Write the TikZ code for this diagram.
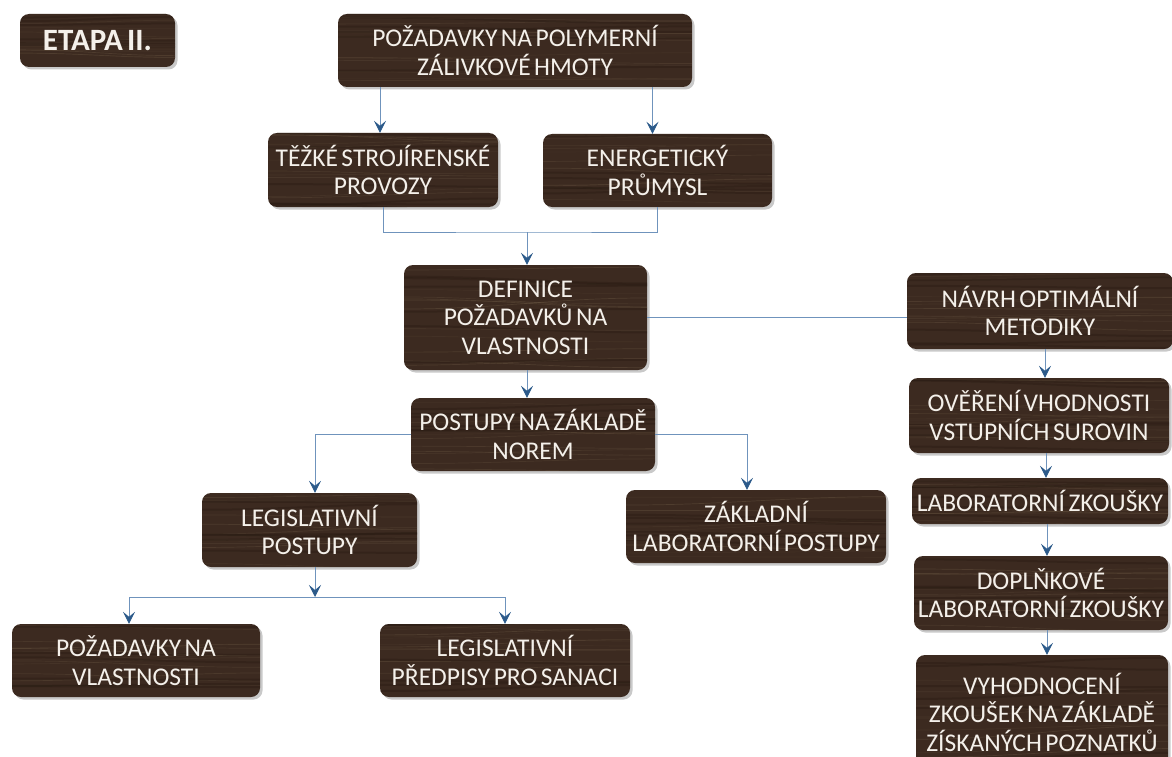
\documentclass[tikz,border=0pt]{standalone}
\usepackage{fontspec}
\setmainfont{Carlito}[WordSpace=0.6]
\usetikzlibrary{arrows.meta,shadows,calc}

\definecolor{woodbase}{HTML}{3C2A20}
\definecolor{woodgrain}{HTML}{7D6A52}
\definecolor{wooddark}{HTML}{22160E}
\definecolor{woodtext}{HTML}{F4F0EA}
\definecolor{linkblue}{HTML}{6F93BC}
\definecolor{tipblue}{HTML}{2C5A8A}

\newcommand\boxfont{\fontsize{25.5}{28.5}\selectfont}
\newcommand\titlefont{\fontsize{31}{34}\selectfont\bfseries}

\tikzset{
  woodbox/.style={
    rounded corners=9pt, fill=woodbase, text=woodtext, align=center,
    font=\boxfont, inner sep=0pt,
    drop shadow={shadow xshift=2.5pt, shadow yshift=-2.5pt, opacity=0.3, fill=black!70},
    path picture={
      \foreach \k in {1,...,11}{
        \pgfmathsetmacro\ya{rnd}
        \pgfmathsetmacro\yb{\ya+0.12*rand}
        \pgfmathsetmacro\op{0.08+0.22*rnd}
        \draw[woodgrain, line width=0.7pt, opacity=\op]
          ($(path picture bounding box.north west)!\ya!(path picture bounding box.south west)$)
          to[out=0,in=180]
          ($(path picture bounding box.north east)!\yb!(path picture bounding box.south east)$);
      }
      \foreach \k in {1,...,6}{
        \pgfmathsetmacro\ya{rnd}
        \pgfmathsetmacro\yb{\ya+0.1*rand}
        \draw[wooddark, line width=2pt, opacity=0.3]
          ($(path picture bounding box.north west)!\ya!(path picture bounding box.south west)$)
          to[out=0,in=180]
          ($(path picture bounding box.north east)!\yb!(path picture bounding box.south east)$);
      }
    }},
  link/.style={draw=linkblue, line width=0.9pt},
  linkarrow/.style={link, -{Stealth[length=12pt,width=12pt,inset=5pt,color=tipblue]}}
}

\begin{document}
\begin{tikzpicture}[x=1pt,y=-1pt]
\pgfmathsetseed{11}
\useasboundingbox (0,0) rectangle (1172,757);
\begin{scope}
\clip (0,0) rectangle (1172,757);

% boxes
\node[woodbox, font=\titlefont, minimum width=155pt, minimum height=53pt] (etapa) at (97.5,40.5) {ETAPA II.};
\node[woodbox, minimum width=354pt, minimum height=73pt] (top) at (515,50.5) {POŽADAVKY NA POLYMERNÍ\\ZÁLIVKOVÉ HMOTY};
\node[woodbox, minimum width=230pt, minimum height=74pt] (tezke) at (383,170) {TĚŽKÉ STROJÍRENSKÉ\\PROVOZY};
\node[woodbox, minimum width=229pt, minimum height=73pt] (energ) at (657.5,170.5) {ENERGETICKÝ\\PRŮMYSL};
\node[woodbox, minimum width=243pt, minimum height=105pt] (defin) at (525.5,317.5) {DEFINICE\\POŽADAVKŮ NA\\VLASTNOSTI};
\node[woodbox, minimum width=266pt, minimum height=76pt] (navrh) at (1040,311) {NÁVRH OPTIMÁLNÍ\\METODIKY};
\node[woodbox, minimum width=244pt, minimum height=73pt] (postupy) at (533,434.5) {POSTUPY NA ZÁKLADĚ\\NOREM};
\node[woodbox, minimum width=215pt, minimum height=74pt] (legis) at (309.5,530) {LEGISLATIVNÍ\\POSTUPY};
\node[woodbox, minimum width=260pt, minimum height=73pt] (zaklad) at (756,526.5) {ZÁKLADNÍ\\LABORATORNÍ POSTUPY};
\node[woodbox, minimum width=248pt, minimum height=73pt] (pozad) at (136,660.5) {POŽADAVKY NA\\VLASTNOSTI};
\node[woodbox, minimum width=250pt, minimum height=73pt] (predp) at (505,660.5) {LEGISLATIVNÍ\\PŘEDPISY PRO SANACI};
\node[woodbox, minimum width=260pt, minimum height=75pt] (over) at (1039,415.5) {OVĚŘENÍ VHODNOSTI\\VSTUPNÍCH SUROVIN};
\node[woodbox, minimum width=256pt, minimum height=46pt] (lab) at (1040,501) {LABORATORNÍ ZKOUŠKY};
\node[woodbox, minimum width=254pt, minimum height=74pt] (dopl) at (1041,593) {DOPLŇKOVÉ\\LABORATORNÍ ZKOUŠKY};
\node[woodbox, minimum width=252pt, minimum height=114pt] (vyhod) at (1042,712) {VYHODNOCENÍ\\ZKOUŠEK NA ZÁKLADĚ\\ZÍSKANÝCH POZNATKŮ};

% junction points
\coordinate (j1) at (527,232);
\coordinate (j2) at (315,597);

% connectors
\draw[linkarrow] ([xshift=-3pt]top.south -| tezke.north) -- ([xshift=-3pt]tezke.north);
\draw[linkarrow] ([xshift=-5pt]top.south -| energ.north) -- ([xshift=-5pt]energ.north);
\draw[link] (tezke.south) |- (j1) -| (energ.south);
\draw[linkarrow] (j1) -- (j1 |- defin.north);
\draw[link] (defin.east) -- (navrh.west |- defin.east);
\draw[linkarrow] (j1 |- defin.south) -- (j1 |- postupy.north);
\draw[linkarrow] (postupy.west) -| (j2 |- legis.north);
\draw[linkarrow] (postupy.east) -| ([xshift=-9pt]zaklad.north);
\draw[linkarrow] (j2 |- legis.south) -- (j2);
\draw[linkarrow] (j2) -| ([xshift=-7pt]pozad.north);
\draw[linkarrow] (j2) -| (predp.north);
\draw[linkarrow] ([xshift=5pt]navrh.south) -- ([xshift=5pt]navrh.south |- over.north);
\draw[linkarrow] ([xshift=7pt]over.south) -- ([xshift=7pt]over.south |- lab.north);
\draw[linkarrow] ([xshift=7pt]lab.south) -- ([xshift=7pt]lab.south |- dopl.north);
\draw[linkarrow] ([xshift=6pt]dopl.south) -- ([xshift=6pt]dopl.south |- vyhod.north);
\end{scope}
\end{tikzpicture}
\end{document}
